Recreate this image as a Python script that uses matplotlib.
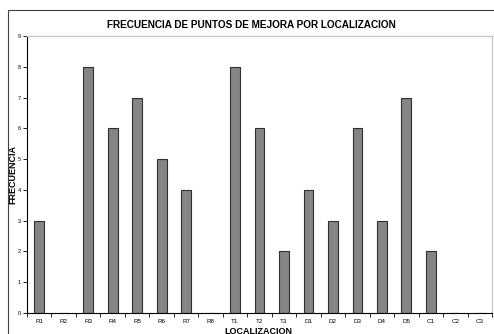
import matplotlib
matplotlib.use("Agg")
import matplotlib.pyplot as plt
from matplotlib.patches import Rectangle
import numpy as np

categories = ["R1", "R2", "R3", "R4", "R5", "R6", "R7", "R8", "T1", "T2", "T3",
              "D1", "D2", "D3", "D4", "D5", "C1", "C2", "C3"]
frecuencia = [3, 0, 8, 6, 7, 5, 4, 0, 8, 6, 2, 4, 3, 6, 3, 7, 2, 0, 0]
y_ticks = list(range(0, 10))

plt.rcParams["font.family"] = ["Liberation Sans", "DejaVu Sans"]

fig = plt.figure(figsize=(4.94, 3.34), dpi=100)
fig.patch.set_facecolor("white")

# outer chart frame
fig.patches.append(Rectangle((8 / 494, -0.05), 1.0, 1 - 10 / 334 + 0.05,
                             transform=fig.transFigure, fill=False,
                             edgecolor="#404040", linewidth=0.8))

ax = fig.add_axes([27 / 494, 1 - 313 / 334, (492 - 27) / 494, (313 - 36) / 334])
x = np.arange(len(categories))
ax.bar(x, frecuencia, width=0.4, color="#858585", edgecolor="#303030", linewidth=0.8)

ax.set_xlim(-0.5, len(categories) - 0.5)
ax.set_ylim(0, 9)
ax.set_yticks(y_ticks)
ax.set_yticklabels([str(v) for v in y_ticks], fontsize=4)
ax.set_xticks(x)
ax.set_xticklabels(categories, fontsize=4.5)
ax.tick_params(axis="x", which="major", length=0, pad=4)
ax.set_xticks(np.arange(-0.5, len(categories)), minor=True)
ax.tick_params(axis="x", which="minor", length=3, width=0.6, color="black")
ax.tick_params(axis="y", length=3, width=0.6, pad=1.5)

for side in ["left", "bottom"]:
    ax.spines[side].set_color("black")
    ax.spines[side].set_linewidth(0.8)
for side in ["top", "right"]:
    ax.spines[side].set_color("#c8c8c8")
    ax.spines[side].set_linewidth(1.0)

fig.text(251 / 494, 1 - 25 / 334, "FRECUENCIA DE PUNTOS DE MEJORA POR LOCALIZACION",
         ha="center", va="center", fontsize=7.2, fontweight="bold")
fig.text(13 / 494, 1 - 174 / 334, "FRECUENCIA", rotation=90,
         ha="center", va="center", fontsize=6.5, fontweight="bold")
fig.text(258 / 494, 1 - 331 / 334, "LOCALIZACION",
         ha="center", va="center", fontsize=6.5, fontweight="bold")

fig.savefig("out.png", dpi=100)
